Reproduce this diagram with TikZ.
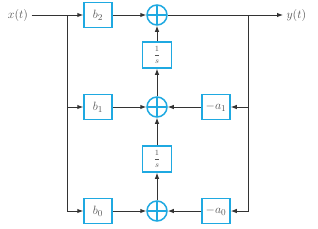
\documentclass[tikz,border=0pt]{standalone}
\usepackage{tikz}
\usepackage{amsmath}
\usetikzlibrary{arrows.meta, positioning, calc}
\definecolor{blkblue}{HTML}{1FA9E1}
\definecolor{wiregray}{HTML}{333333}
\definecolor{textgray}{HTML}{555555}

\begin{document}
\begin{tikzpicture}[
  x=1pt, y=-1pt,
  gain/.style={draw=blkblue, line width=1.5pt, minimum width=28pt, minimum height=25pt, inner sep=0pt, text=textgray, font=\fontsize{13}{15}\selectfont},
  integ/.style={gain, minimum width=29pt, minimum height=26pt, font=\footnotesize},
  adder/.style={circle, draw=blkblue, line width=1.5pt, minimum size=20pt, inner sep=0pt,
    path picture={\draw[blkblue, line width=1.5pt]
      (path picture bounding box.north) -- (path picture bounding box.south)
      (path picture bounding box.west) -- (path picture bounding box.east);}},
  sig/.style={draw=wiregray, line width=1pt},
  flow/.style={sig, -{Latex[length=6pt, width=4.5pt]}},
  sigtext/.style={text=textgray, font=\fontsize{13}{15}\selectfont}
]
\useasboundingbox (0,0) rectangle (318,228);

% input and output
\node[sigtext] (xin) at (18,15) {$x(t)$};
\node[sigtext, anchor=west] (yout) at (283,15) {$y(t)$};

% feedforward gains
\node[gain] (b2) at (98,15) {$b_2$};
\node[gain] (b1) at (98,107) {$b_1$};
\node[gain] (b0) at (98,211) {$b_0$};

% summers and integrators
\node[adder] (s2) at (157,15) {};
\node[integ] (int2) at (157,55) {$\dfrac{1}{s}$};
\node[adder] (s1) at (157,107) {};
\node[integ] (int1) at (157,159) {$\dfrac{1}{s}$};
\node[adder] (s0) at (157,211) {};

% feedback gains
\node[gain] (a1) at (216,107) {$-a_1$};
\node[gain] (a0) at (216,211) {$-a_0$};

\coordinate (split) at (67,15);
\coordinate (tap) at (248,15);

% input side
\draw[sig] (xin.east) -- (split);
\draw[flow] (split) -- (b2);
\draw[flow] (split) |- (b0);
\draw[flow] (split |- b1) -- (b1);
\draw[flow] (b2) -- (s2);
\draw[flow] (b1) -- (s1);
\draw[flow] (b0) -- (s0);

% integrator chain
\draw[flow] (s0) -- (int1);
\draw[flow] (int1) -- (s1);
\draw[flow] (s1) -- (int2);
\draw[flow] (int2) -- (s2);

% output and feedback
\draw[flow] (s2) -- (yout);
\draw[flow] (tap) |- (a0);
\draw[flow] (tap |- a1) -- (a1);
\draw[flow] (a1) -- (s1);
\draw[flow] (a0) -- (s0);
\end{tikzpicture}
\end{document}
